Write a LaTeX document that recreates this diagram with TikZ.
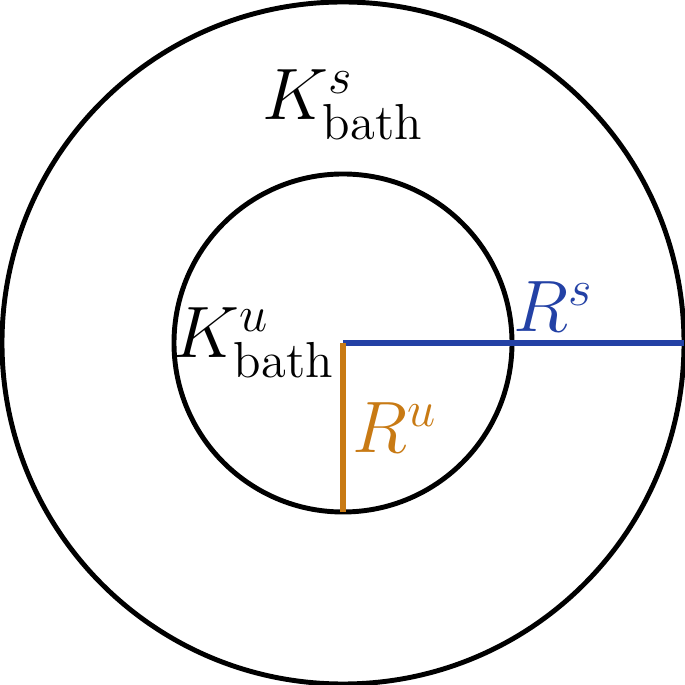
\documentclass[tikz,border=0pt]{standalone}
\usepackage{amsmath}
\usepackage{tikz}
\usetikzlibrary{positioning}
\definecolor{radS}{RGB}{35,65,165}
\definecolor{radU}{RGB}{200,122,20}

\begin{document}
\begin{tikzpicture}
                \useasboundingbox (-3.43,-3.42) rectangle (3.42,3.43);
                \coordinate (O) at (0,0);
                \coordinate (outerE) at (3.41,0);
                \coordinate (innerS) at (0,-1.69);

                \draw[line width=1.4pt, black] (O) circle (3.41);
                \draw[line width=1.4pt, black] (O) circle (1.69);

                \node[inner sep=0] (Ks) at (0,2.38) {\huge $K^{s}_{\text{bath}}$};
                \node[inner sep=0] (Ku) at (-0.89,0.0) {\huge $K^{u}_{\text{bath}}$};

                                \draw[line width=1.5pt, radS] (O) -- (outerE);
                                \draw[line width=1.5pt, radU] (O) -- (innerS);

                \node[inner sep=0, text=radS] (Rs) at (2.11,0.36) {\huge $R^{s}$};
                \node[inner sep=0, text=radU] (Ru) at (0.52,-0.85) {\huge $R^{u}$};
\end{tikzpicture}
\end{document}
